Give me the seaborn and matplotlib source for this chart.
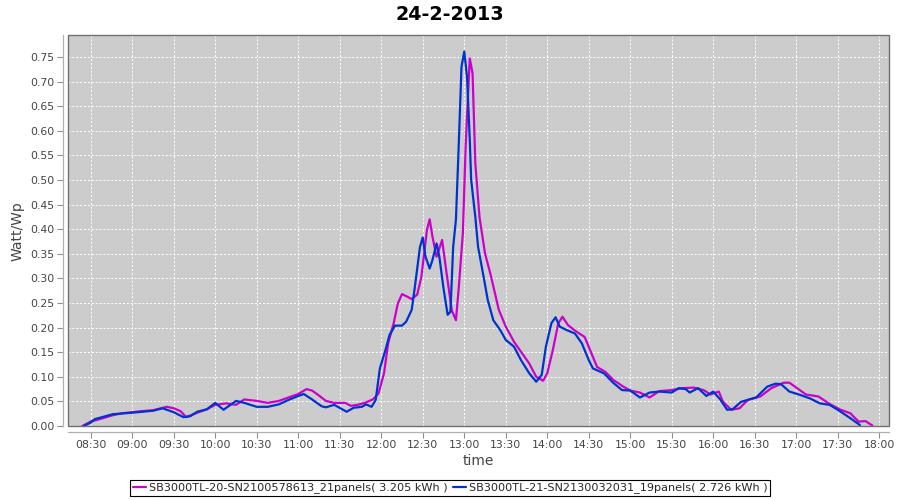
import pandas as pd
import numpy as np
import matplotlib
matplotlib.use("Agg")
import matplotlib.pyplot as plt
import matplotlib.dates as mdates
from matplotlib.patches import Rectangle
import seaborn as sns

# series names
name_m = "SB3000TL-20-SN2100578613_21panels( 3.205 kWh )"
name_b = "SB3000TL-21-SN2130032031_19panels( 2.726 kWh )"

# magenta series
m_times = ["08:24", "08:30", "08:39", "08:46", "08:53", "09:00", "09:06", "09:15", "09:25", "09:30",
           "09:35", "09:39", "09:47", "09:54", "10:00", "10:08", "10:15", "10:21", "10:30", "10:38",
           "10:46", "10:53", "11:00", "11:06", "11:10", "11:14", "11:20", "11:26", "11:34", "11:38",
           "11:43", "11:48", "11:54", "11:58", "12:02", "12:05", "12:09", "12:12", "12:15", "12:18",
           "12:22", "12:26", "12:29", "12:33", "12:35", "12:37", "12:40", "12:44", "12:47", "12:51",
           "12:54", "12:56", "12:59", "13:01", "13:04", "13:06", "13:08", "13:11", "13:15", "13:19",
           "13:25", "13:30", "13:36", "13:41", "13:47", "13:52", "13:57", "14:00", "14:04", "14:08",
           "14:11", "14:15", "14:21", "14:27", "14:31", "14:36", "14:42", "14:48", "14:55", "15:00",
           "15:07", "15:14", "15:21", "15:30", "15:38", "15:46", "15:53", "15:58", "16:04", "16:07",
           "16:13", "16:19", "16:25", "16:34", "16:42", "16:51", "16:55", "17:00", "17:07", "17:16",
           "17:24", "17:32", "17:39", "17:45", "17:50", "17:55"]
m_vals = [0.000, 0.009, 0.016, 0.022, 0.026, 0.028, 0.030, 0.032, 0.039, 0.036,
          0.030, 0.018, 0.027, 0.034, 0.043, 0.046, 0.043, 0.054, 0.051, 0.047,
          0.051, 0.058, 0.065, 0.075, 0.072, 0.064, 0.051, 0.047, 0.047, 0.041,
          0.043, 0.047, 0.054, 0.066, 0.107, 0.168, 0.209, 0.249, 0.268, 0.264,
          0.258, 0.267, 0.303, 0.398, 0.420, 0.385, 0.344, 0.378, 0.315, 0.235,
          0.215, 0.280, 0.392, 0.568, 0.747, 0.717, 0.534, 0.425, 0.351, 0.308,
          0.236, 0.202, 0.171, 0.151, 0.127, 0.100, 0.092, 0.107, 0.154, 0.209,
          0.222, 0.205, 0.192, 0.181, 0.154, 0.120, 0.110, 0.093, 0.080, 0.072,
          0.068, 0.058, 0.071, 0.073, 0.077, 0.078, 0.073, 0.064, 0.070, 0.049,
          0.033, 0.036, 0.053, 0.060, 0.077, 0.088, 0.088, 0.078, 0.064, 0.060,
          0.045, 0.033, 0.026, 0.009, 0.010, 0.001]

# blue series
b_times = ["08:25", "08:30", "08:33", "08:46", "09:00", "09:15", "09:22", "09:30", "09:37", "09:42",
           "09:47", "09:54", "10:00", "10:06", "10:15", "10:21", "10:30", "10:38", "10:46", "10:53",
           "11:00", "11:04", "11:10", "11:17", "11:20", "11:26", "11:35", "11:40", "11:46", "11:49",
           "11:53", "11:56", "11:59", "12:03", "12:06", "12:10", "12:15", "12:18", "12:22", "12:24",
           "12:28", "12:30", "12:32", "12:35", "12:37", "12:40", "12:42", "12:45", "12:48", "12:50",
           "12:52", "12:54", "12:56", "12:58", "13:00", "13:02", "13:04", "13:05", "13:08", "13:10",
           "13:14", "13:17", "13:21", "13:26", "13:30", "13:36", "13:41", "13:47", "13:52", "13:56",
           "13:59", "14:03", "14:06", "14:09", "14:14", "14:20", "14:25", "14:30", "14:33", "14:41",
           "14:48", "14:54", "15:00", "15:07", "15:14", "15:21", "15:30", "15:35", "15:40", "15:43",
           "15:49", "15:55", "16:00", "16:05", "16:10", "16:14", "16:20", "16:26", "16:31", "16:39",
           "16:45", "16:49", "16:55", "17:03", "17:10", "17:17", "17:24", "17:30", "17:39", "17:46"]
b_vals = [0.000, 0.007, 0.014, 0.024, 0.027, 0.031, 0.036, 0.028, 0.018, 0.020,
          0.029, 0.034, 0.047, 0.033, 0.051, 0.047, 0.039, 0.039, 0.044, 0.053,
          0.061, 0.065, 0.054, 0.040, 0.038, 0.043, 0.029, 0.037, 0.039, 0.044,
          0.039, 0.053, 0.117, 0.154, 0.185, 0.204, 0.204, 0.212, 0.236, 0.276,
          0.364, 0.383, 0.344, 0.320, 0.337, 0.371, 0.344, 0.280, 0.226, 0.232,
          0.364, 0.420, 0.570, 0.730, 0.761, 0.710, 0.581, 0.500, 0.425, 0.364,
          0.303, 0.256, 0.215, 0.195, 0.175, 0.161, 0.134, 0.107, 0.090, 0.104,
          0.161, 0.209, 0.221, 0.202, 0.195, 0.188, 0.168, 0.134, 0.117, 0.107,
          0.087, 0.073, 0.072, 0.058, 0.068, 0.070, 0.068, 0.077, 0.075, 0.068,
          0.077, 0.061, 0.070, 0.054, 0.033, 0.034, 0.049, 0.054, 0.058, 0.080,
          0.086, 0.085, 0.070, 0.063, 0.056, 0.046, 0.043, 0.033, 0.016, 0.002]

day = "2013-02-24 "
df = pd.concat([
    pd.DataFrame({"time": pd.to_datetime([day + t for t in m_times]), "value": m_vals, "series": name_m}),
    pd.DataFrame({"time": pd.to_datetime([day + t for t in b_times]), "value": b_vals, "series": name_b}),
], ignore_index=True)

sns.set_style("darkgrid", {"axes.facecolor": "#cccccc", "grid.color": "white",
                           "grid.linestyle": "--"})
plt.rcParams["font.family"] = ["DejaVu Sans"]

fig = plt.figure(figsize=(9, 5), dpi=100)
ax = fig.add_axes([68.3 / 900, 1 - 426 / 500, (888.7 - 68.3) / 900, (426 - 35.3) / 500])

sns.lineplot(data=df, x="time", y="value", hue="series", estimator=None, sort=True,
             palette={name_m: "#cc00cc", name_b: "#0033cc"}, linewidth=1.6, ax=ax)

ax.grid(True, color="white", linestyle=(0, (2, 2)), linewidth=0.7)
ax.set_xlim(pd.Timestamp(day + "08:13:48"), pd.Timestamp(day + "18:06:48"))
ax.set_ylim(0, 0.794)
ax.set_yticks(np.arange(0, 0.76, 0.05))
ax.yaxis.set_major_formatter(matplotlib.ticker.FormatStrFormatter("%.2f"))
ax.xaxis.set_major_locator(mdates.MinuteLocator(byminute=[0, 30]))
ax.xaxis.set_major_formatter(mdates.DateFormatter("%H:%M"))

# plot outline and offset axis lines
ax.add_patch(Rectangle((0, 0), 1, 1, transform=ax.transAxes, fill=False,
                       edgecolor="#707070", linewidth=1.0, clip_on=False, zorder=5))
for s in ["top", "right"]:
    ax.spines[s].set_visible(False)
for s in ["left", "bottom"]:
    ax.spines[s].set_visible(True)
    ax.spines[s].set_position(("outward", 4))
    ax.spines[s].set_color("#b0b0b0")
    ax.spines[s].set_linewidth(0.9)
ax.tick_params(axis="both", which="both", direction="out", length=4, width=0.8,
               color="#909090", labelsize=7.8, labelcolor="#444444", pad=2, bottom=True, left=True)

ax.set_xlabel("time", fontsize=10, color="#444444", labelpad=3)
ax.set_ylabel("Watt/Wp", fontsize=10, color="#444444", labelpad=4)
fig.text(0.5, 0.97, "24-2-2013", fontsize=13.8, fontweight="bold", color="black",
         ha="center", va="center")

handles, labels = ax.get_legend_handles_labels()
ax.get_legend().remove()
leg = fig.legend(handles, labels, loc="center", bbox_to_anchor=(0.5, 0.024), ncol=2,
                 fontsize=8.1, frameon=True, fancybox=False, edgecolor="black",
                 facecolor="white", framealpha=1, handlelength=1.2, handletextpad=0.2,
                 columnspacing=0.5, borderpad=0.25)
leg.get_frame().set_linewidth(0.8)

fig.savefig("out.png", dpi=100)
